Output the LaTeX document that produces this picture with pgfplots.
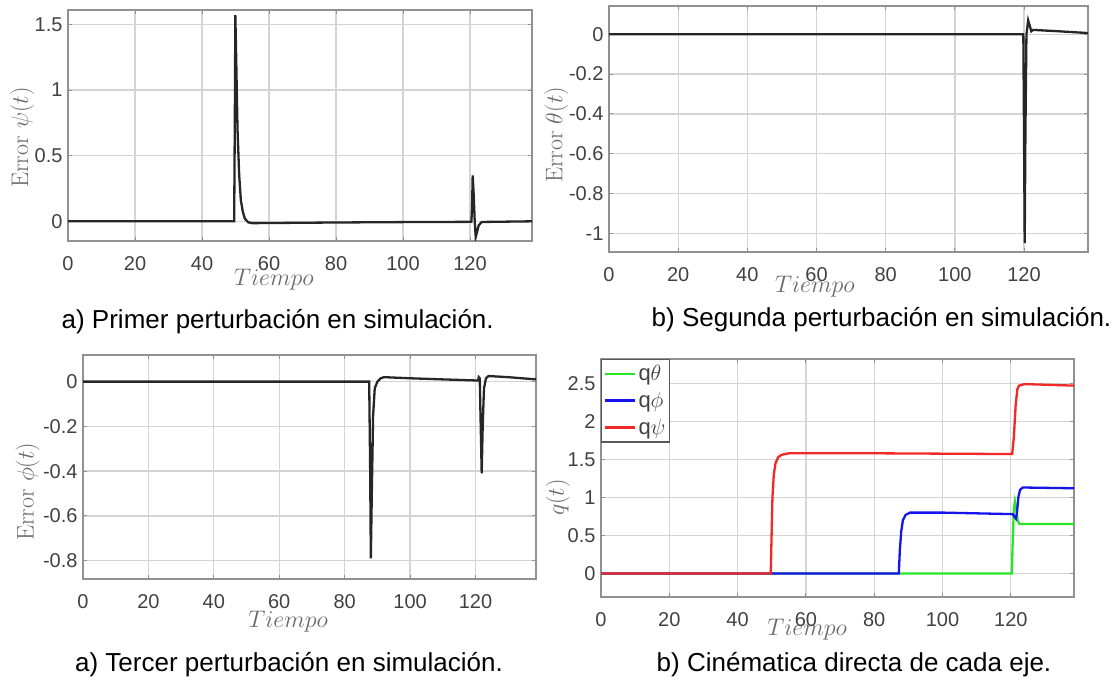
\documentclass[border=0pt]{standalone}
\usepackage{fix-cm}
\usepackage{fontspec}
\usepackage{pgfplots}
\pgfplotsset{compat=1.18}
\newfontfamily\arial{Liberation Sans}
\definecolor{tickgray}{RGB}{65,65,65}
\definecolor{labgray}{RGB}{105,105,105}
\definecolor{gridgray}{RGB}{212,212,212}
\definecolor{boxgray}{RGB}{145,145,145}
\definecolor{mgreen}{RGB}{40,230,40}
\definecolor{mblue}{RGB}{20,20,235}
\definecolor{mred}{RGB}{240,40,40}

\pgfplotsset{
  mat/.style={
    scale only axis, anchor=south west,
    xmin=0, xmax=138.5,
    xtick={0,20,...,120},
    grid=major,
    major grid style={gridgray, line width=1.3pt},
    axis line style={boxgray, line width=1.4pt},
    tick style={boxgray, line width=1pt},
    major tick length=4pt,
    tick label style={font=\fontsize{20}{22}\arial, text=tickgray},
    /pgf/number format/assume math mode=true,
    xticklabel style={yshift=-12pt},
    yticklabel style={xshift=-2pt},
    label style={font=\fontsize{24}{28}\selectfont, text=labgray},
    xlabel={$Tiempo$},
  },
  err/.style={black!85, line width=2.3pt, no markers},
  qline/.style={#1, line width=2.3pt, no markers},
}

\begin{document}
\begin{tikzpicture}[x=1pt,y=1pt]
\path[use as bounding box] (0,0) rectangle (1119,681);

% a) primer perturbacion
\begin{axis}[mat, at={(68pt,440pt)}, width=464pt, height=231pt,
  ymin=-0.15, ymax=1.61, ytick={0,0.5,1,1.5},
  ylabel={Error $\psi(t)$},
  xlabel style={at={(axis description cs:0.444,-0.169)}, anchor=center},
  ylabel style={at={(axis description cs:-0.099,0.448)}, anchor=center}]
\addplot[err] coordinates {
(0,0) (49.6,0) (49.8,0.8) (49.95,1.57) (50.2,1.25) (50.6,0.7) (51.1,0.35)
(51.6,0.16) (52.2,0.07) (52.8,0.02) (53.8,-0.008) (55,-0.014) (60,-0.013)
(80,-0.009) (100,-0.006) (120.4,-0.004) (120.6,0.1) (120.8,0.35) (121.1,0.2)
(121.4,0.0) (121.7,-0.12) (122.1,-0.08) (122.6,-0.03) (123.5,-0.005) (138.5,0)
};
\end{axis}

% b) segunda perturbacion
\begin{axis}[mat, at={(609pt,429pt)}, width=479pt, height=246pt,
  ymin=-1.094, ymax=0.142, ytick={-1,-0.8,-0.6,-0.4,-0.2,0},
  ylabel={Error $\theta(t)$},
  xlabel style={at={(axis description cs:0.43,-0.142)}, anchor=center},
  ylabel style={at={(axis description cs:-0.110,0.476)}, anchor=center}]
\addplot[err] coordinates {
(0,0) (119.8,0) (120.0,-0.5) (120.2,-1.05) (120.4,-0.5) (120.7,0)
(121.2,0.07) (121.7,0.04) (122.1,0.015) (122.6,0.022) (130,0.015) (138.5,0.006)
};
\end{axis}

% a) tercer perturbacion
\begin{axis}[mat, at={(83pt,102pt)}, width=453pt, height=224pt,
  ymin=-0.882, ymax=0.119, ytick={-0.8,-0.6,-0.4,-0.2,0},
  ylabel={Error $\phi(t)$},
  xlabel style={at={(axis description cs:0.453,-0.19)}, anchor=center},
  ylabel style={at={(axis description cs:-0.122,0.39)}, anchor=center}]
\addplot[err] coordinates {
(0,0) (87.5,0) (87.8,-0.4) (88,-0.79) (88.3,-0.5) (88.7,-0.15) (89.2,-0.03)
(90,0.0) (91,0.015) (92,0.02) (100,0.015) (110,0.01) (120.8,0.005) (121,0.02)
(121.3,0.015) (121.6,-0.2) (121.9,-0.41) (122.2,-0.2) (122.6,-0.03)
(123.2,0.015) (124,0.025) (130,0.02) (138.5,0.01)
};
\end{axis}

% b) cinematica directa
\begin{axis}[mat, at={(601pt,84pt)}, width=473pt, height=238pt,
  ymin=-0.31, ymax=2.82, ytick={0,0.5,1,1.5,2,2.5},
  ylabel={$q(t)$},
  xlabel style={at={(axis description cs:0.436,-0.139)}, anchor=center},
  ylabel style={at={(axis description cs:-0.091,0.418)}, anchor=center},
  legend style={at={(axis description cs:0,1)}, anchor=north west,
    draw=black!65, line width=1.4pt, fill=white,
    font=\fontsize{22}{24}\arial, text=tickgray,
    inner xsep=2pt, inner ysep=4pt, row sep=6pt, cells={anchor=west}},
  legend image code/.code={\draw[#1] (0pt,0pt) -- (30pt,0pt);},
  legend image post style={line width=2.8pt}]
\addplot[qline=mgreen] coordinates {
(0,0) (120.3,0) (120.6,0.5) (120.9,0.85) (121.2,0.95) (121.6,0.85)
(122,0.7) (122.5,0.65) (138.5,0.65)
};
\addlegendentry{q$\theta$}
\addplot[qline=mblue] coordinates {
(0,0) (87.2,0) (87.5,0.3) (87.9,0.55) (88.4,0.7) (89.2,0.77) (90.5,0.8)
(100,0.8) (120.5,0.78) (121.2,0.74) (121.5,0.72) (121.8,0.8) (122.2,1.0)
(122.7,1.1) (123.5,1.13) (138.5,1.12)
};
\addlegendentry{q$\phi$}
\addplot[qline=mred] coordinates {
(0,0) (49.7,0) (49.9,0.4) (50.2,1.0) (50.6,1.3) (51.1,1.45) (51.9,1.53)
(52.9,1.56) (55,1.58) (80,1.58) (120.4,1.57) (120.9,1.8) (121.4,2.2)
(121.9,2.42) (122.4,2.47) (124,2.49) (138.5,2.47)
};
\addlegendentry{q$\psi$}
\end{axis}

\node[font=\fontsize{26}{30}\arial] at (277.7,359.3) {a) Primer perturbación en simulación.};
\node[font=\fontsize{26}{30}\arial] at (881.5,361) {b) Segunda perturbación en simulación.};
\node[font=\fontsize{26}{30}\arial] at (289,16) {a) Tercer perturbación en simulación.};
\node[font=\fontsize{26}{30}\arial] at (854,16) {b) Cinématica directa de cada eje.};
\end{tikzpicture}
\end{document}
